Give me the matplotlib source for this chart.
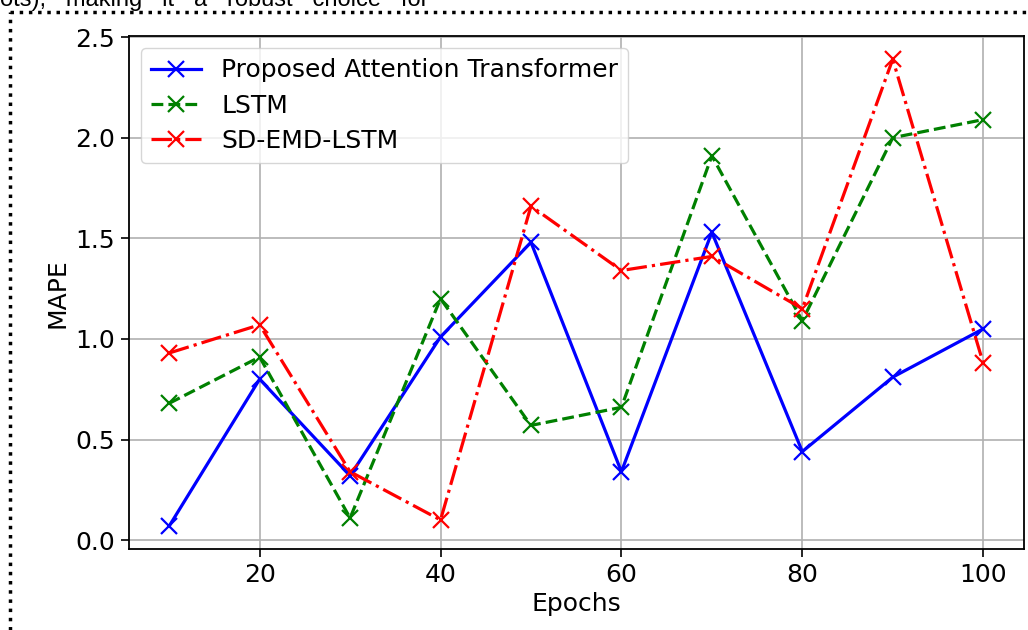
import matplotlib
matplotlib.use("Agg")
import matplotlib.pyplot as plt
from matplotlib.lines import Line2D

epochs = [10, 20, 30, 40, 50, 60, 70, 80, 90, 100]
transformer = [0.07, 0.80, 0.32, 1.01, 1.48, 0.34, 1.53, 0.44, 0.81, 1.05]
lstm = [0.68, 0.91, 0.11, 1.20, 0.57, 0.66, 1.91, 1.09, 2.00, 2.09]
sd_emd_lstm = [0.93, 1.07, 0.34, 0.10, 1.66, 1.34, 1.41, 1.15, 2.39, 0.88]

fs = 18

fig = plt.figure(figsize=(10.28, 6.3), dpi=100)
ax = fig.add_axes([0.125, 0.128, 0.871, 0.815])

style = dict(marker='x', markersize=12, markeredgewidth=1.6, linewidth=2.3)
ax.plot(epochs, transformer, color='blue', linestyle='-',
        label='Proposed Attention Transformer', **style)
ax.plot(epochs, lstm, color='green', linestyle='--', label='LSTM', **style)
ax.plot(epochs, sd_emd_lstm, color='red', linestyle='-.',
        label='SD-EMD-LSTM', **style)

ax.set_xlabel('Epochs', fontsize=fs)
ax.set_ylabel('MAPE', fontsize=fs)
ax.tick_params(labelsize=fs, length=6, width=1.2)
ax.grid(True, color='#b0b0b0', linewidth=1.2)
for s in ax.spines.values():
    s.set_linewidth(1.3)
ax.legend(loc='upper left', fontsize=fs, borderpad=0.4, labelspacing=0.45)

# dotted frame and cut-off text from the surrounding document
fig.add_artist(Line2D([0.01, 1.0], [0.981, 0.981], transform=fig.transFigure,
                      color='black', linestyle=':', linewidth=2.5))
fig.add_artist(Line2D([0.01, 0.01], [0.0, 0.981], transform=fig.transFigure,
                      color='black', linestyle=':', linewidth=2.5))
fig.text(0.0, 1.0, 'ots),   making   it   a   robust   choice   for',
         fontsize=17, va='center', ha='left', family='Liberation Sans')

fig.savefig('out.png', dpi=100)
